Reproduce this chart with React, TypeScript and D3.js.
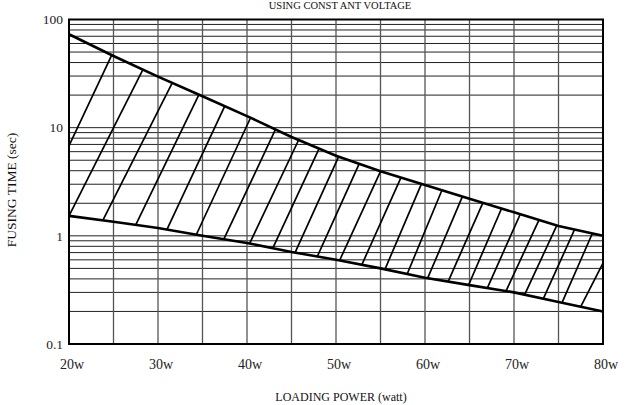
import React from "react";
import * as d3 from "d3";

// boundary curves of the fusing band
const watts = [20, 25, 30, 35, 40, 45, 50, 55, 60, 65, 70, 75, 80];
const upperSec = [73, 46, 29.6, 19.5, 12.8, 8.2, 5.5, 3.95, 2.95, 2.2, 1.65, 1.23, 1.0];
const lowerSec = [1.53, 1.35, 1.18, 1.0, 0.86, 0.71, 0.6, 0.5, 0.41, 0.35, 0.3, 0.245, 0.2];

// hatch strokes: start on the lower curve, end on the upper curve (watts)
const hatchLow = [16.5, 20, 23.8, 27.5, 31.0, 34.3, 37.4, 40.3, 42.9, 45.4, 47.9, 50.4, 52.9, 55.5, 58.0, 60.3, 62.6, 64.9, 67.0, 69.1, 71.2, 73.3, 75.4, 77.5];
const hatchHigh = [24.8, 28.3, 31.6, 34.6, 37.5, 40.4, 43.2, 45.8, 48.1, 50.3, 52.6, 55.0, 57.3, 59.6, 61.9, 64.2, 66.5, 68.6, 70.7, 72.8, 74.8, 76.8, 78.8, 81.4];

const xTicks = [20, 30, 40, 50, 60, 70, 80];
const xTickLabels = ["20w", "30w", "40w", "50w", "60w", "70w", "80w"];
const yTicks = [0.1, 1, 10, 100];
const yTickLabels = ["0.1", "1", "10", "100"];

const W = 629;
const H = 405;
const left = 69;
const right = 603;
const top = 19.5;
const bottom = 344;
const font = "'Liberation Serif', 'DejaVu Serif', serif";

export default function App() {
  const x = d3.scaleLinear().domain([20, 80]).range([left, right]);
  const y = d3.scaleLog().domain([0.1, 100]).range([bottom, top]);

  // log-space interpolation along each boundary
  const upLog = d3.scaleLinear().domain(watts).range(upperSec.map(Math.log10));
  const loLog = d3.scaleLinear().domain(watts).range(lowerSec.map(Math.log10));

  const line = d3
    .line<[number, number]>()
    .x((d) => x(d[0]))
    .y((d) => y(d[1]));

  const upperPath = line(watts.map((w, i) => [w, upperSec[i]]));
  const lowerPath = line(watts.map((w, i) => [w, lowerSec[i]]));

  const vGrid = d3.range(25, 80, 5);
  const hGrid = [0.2, 0.3, 0.4, 0.5, 0.6, 0.7, 0.8, 0.9, 1, 2, 3, 4, 5, 6, 7, 8, 9, 10, 20, 30, 40, 50, 60, 70, 80, 90];

  return (
    <svg
      width={W}
      height={H}
      style={{ position: "absolute", left: 0, top: 0, background: "#fff" }}
      fontFamily={font}
    >
      <defs>
        <clipPath id="plot">
          <rect x={left} y={top} width={right - left} height={bottom - top} />
        </clipPath>
      </defs>

      <text x={340} y={8.5} textAnchor="middle" fontSize={10.5} fill="#111">
        USING CONST ANT VOLTAGE
      </text>

      {/* grid */}
      {hGrid.map((v) => (
        <line key={"h" + v} x1={left} x2={right} y1={y(v)} y2={y(v)} stroke="#222" strokeWidth={1} />
      ))}
      {vGrid.map((w) => (
        <line key={"v" + w} x1={x(w)} x2={x(w)} y1={top} y2={bottom} stroke="#555" strokeWidth={1.3} />
      ))}

      {/* hatching */}
      <g clipPath="url(#plot)">
        {hatchLow.map((lo, i) => {
          const hi = hatchHigh[i];
          return (
            <line
              key={"hatch" + i}
              x1={x(lo)}
              y1={y(Math.pow(10, loLog(lo)))}
              x2={x(hi)}
              y2={y(Math.pow(10, upLog(hi)))}
              stroke="#000"
              strokeWidth={1.7}
            />
          );
        })}
      </g>

      <path d={upperPath ?? ""} fill="none" stroke="#000" strokeWidth={2.6} />
      <path d={lowerPath ?? ""} fill="none" stroke="#000" strokeWidth={2.6} />

      <rect
        x={left}
        y={top}
        width={right - left}
        height={bottom - top}
        fill="none"
        stroke="#000"
        strokeWidth={2}
      />

      {/* y ticks */}
      {yTicks.map((v, i) => (
        <text key={"yt" + v} x={63} y={y(v)} dy="0.35em" textAnchor="end" fontSize={13.5} fill="#222">
          {yTickLabels[i]}
        </text>
      ))}
      {/* x ticks */}
      {xTicks.map((w, i) => (
        <text key={"xt" + w} x={x(w) + 3} y={369} textAnchor="middle" fontSize={14} fill="#222">
          {xTickLabels[i]}
        </text>
      ))}

      <text x={341} y={401} textAnchor="middle" fontSize={12} fill="#111">
        LOADING POWER (watt)
      </text>
      <text
        transform={`translate(16,${190}) rotate(-90)`}
        textAnchor="middle"
        fontSize={13.5}
        fill="#111"
      >
        FUSING TIME (sec)
      </text>
    </svg>
  );
}
